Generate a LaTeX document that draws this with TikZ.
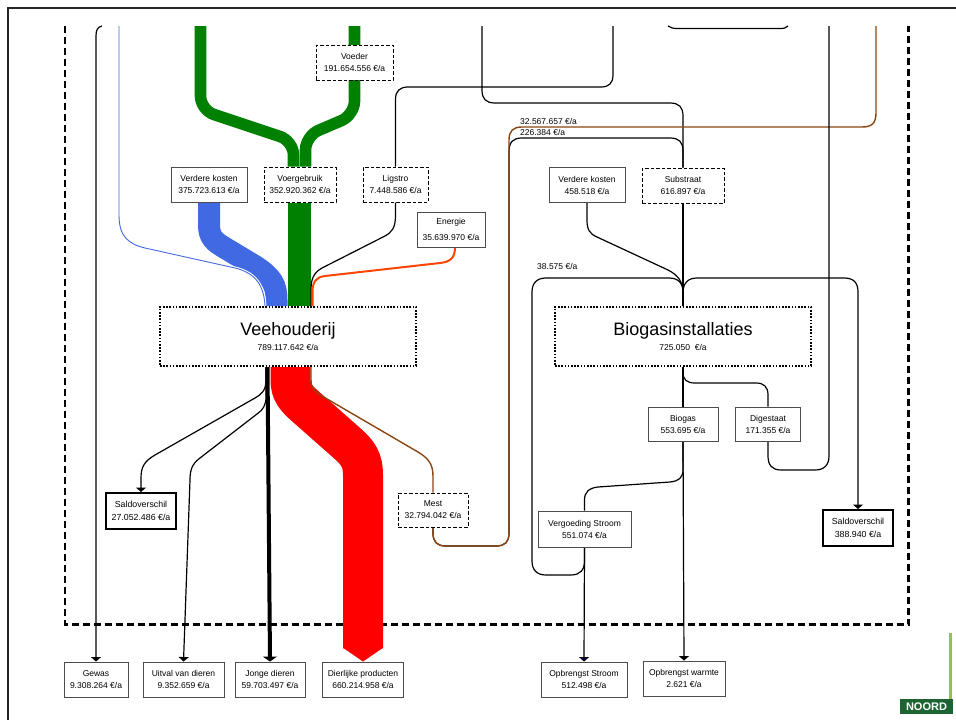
\documentclass[tikz,border=0pt]{standalone}
\usepackage{fontspec}
\setmainfont{Liberation Sans}
\usetikzlibrary{arrows.meta}
\pgfdeclarelayer{bg}
\pgfsetlayers{bg,main}
\newcommand{\smallfnt}{\fontsize{8.5}{12}\selectfont}
\definecolor{gr}{RGB}{0,128,0}
\definecolor{bl}{RGB}{65,105,225}
\definecolor{orr}{RGB}{255,69,0}
\definecolor{brn}{RGB}{139,69,19}
\definecolor{logolight}{RGB}{141,198,63}
\definecolor{logodark}{RGB}{30,100,50}
\begin{document}
\begin{tikzpicture}[x=1pt,y=-1pt,
  sbox/.style={draw=black!70, line width=0.9pt, fill=white, align=center, font=\smallfnt, inner sep=0pt},
  dbox/.style={sbox, draw=black, line width=1pt, dash pattern=on 3.5pt off 2pt},
  tbox/.style={sbox, draw=black, line width=2pt, font=\fontsize{8.8}{13.5}\selectfont},
  mbox/.style={fill=white, draw=black, line width=2pt, dash pattern=on 1.6pt off 1.6pt, align=center, font=\smallfnt, minimum width=256pt, minimum height=59pt, inner sep=0pt},
  wire/.style={line width=1.2pt, black},
  arr/.style={wire, -{Triangle[width=10pt,length=4.5pt]}},
  band/.style={line cap=butt},
  halo/.style={preaction={draw=white, line width=3pt}},
  lbl/.style={font=\smallfnt, anchor=west, inner sep=0pt},
]
\useasboundingbox (0,0) rectangle (956,720);

% ---------- nodes ----------
\node[dbox, minimum width=77pt, minimum height=35pt] (voeder) at (354.5,62.5) {Voeder\\191.654.556 €/a};
\node[dbox, minimum width=72pt, minimum height=35pt] (voerg) at (300,184.5) {Voergebruik\\352.920.362 €/a};
\node[sbox, minimum width=76pt, minimum height=35pt] (vkA) at (209,184.5) {Verdere kosten\\375.723.613 €/a};
\node[dbox, minimum width=65pt, minimum height=35pt] (ligstro) at (395.5,184.5) {Ligstro\\7.448.586 €/a};
\node[sbox, minimum width=68pt, minimum height=35pt] (energie) at (451,229.5) {Energie\\[4pt]35.639.970 €/a};
\node[mbox] (vee) at (288,336.5) {{\fontsize{18}{20}\selectfont Veehouderij}\\[3.5pt]789.117.642 €/a};
\node[mbox] (bio) at (683,336.5) {{\fontsize{18}{20}\selectfont Biogasinstallaties}\\[3.5pt]725.050\ \ €/a};
\node[sbox, minimum width=76pt, minimum height=35pt] (vkB) at (587,185) {Verdere kosten\\458.518 €/a};
\node[dbox, minimum width=82pt, minimum height=35pt] (substraat) at (683,185.5) {Substraat\\616.897 €/a};
\node[sbox, minimum width=70pt, minimum height=34pt] (biogas) at (683,424) {Biogas\\553.695 €/a};
\node[sbox, minimum width=65pt, minimum height=34pt] (digestaat) at (768,424) {Digestaat\\171.355 €/a};
\node[sbox, minimum width=93pt, minimum height=36pt] (vergoeding) at (584.5,529) {Vergoeding Stroom\\551.074 €/a};
\node[tbox, minimum width=70pt, minimum height=36pt] (saldoB) at (858,528) {Saldoverschil\\388.940 €/a};
\node[tbox, minimum width=70pt, minimum height=36pt] (saldoA) at (141,511) {Saldoverschil\\27.052.486 €/a};
\node[dbox, minimum width=70pt, minimum height=34pt] (mest) at (433,510) {Mest\\32.794.042 €/a};
\node[sbox, minimum width=64pt, minimum height=35pt] (gewas) at (96,679.5) {Gewas\\9.308.264 €/a};
\node[sbox, minimum width=81pt, minimum height=35pt] (uitval) at (183.5,679.5) {Uitval van dieren\\9.352.659 €/a};
\node[sbox, minimum width=70pt, minimum height=35pt] (jonge) at (270,679.5) {Jonge dieren\\59.703.497 €/a};
\node[sbox, minimum width=81pt, minimum height=35pt] (dierlijk) at (363,679.5) {Dierlijke producten\\660.214.958 €/a};
\node[sbox, minimum width=86pt, minimum height=35pt] (opstroom) at (584,679.5) {Opbrengst Stroom\\512.498 €/a};
\node[sbox, minimum width=82pt, minimum height=35pt] (opwarmte) at (684,678.5) {Opbrengst warmte\\2.621 €/a};

\node[lbl] (l1) at (520,121) {32.567.657 €/a};
\node[lbl] (l2) at (520,132) {226.384 €/a};
\node[lbl] (l3) at (537,266) {38.575 €/a};

% ---------- logo ----------
\draw[logolight, line width=2.5pt] (950.5,633) -- (950.5,699);
\fill[logodark] (900,699) rectangle (953,714);
\begin{scope}
\clip (900,699) rectangle (953,714);
\node[font=\bfseries\fontsize{11}{11}\selectfont, text=white, inner sep=0pt] (noord) at (926.5,707) {NOORD};
\end{scope}

\begin{pgfonlayer}{bg}
% frame and system boundary
\draw[line width=2.2pt, black!85] (8,720) -- (8,8) -- (956,8);
\draw[line width=2.5pt, dash pattern=on 7pt off 4pt] (65,26) -- (65,624.5) -- (908.5,624.5) -- (908.5,26);

% green feed flows
\draw[band, gr, line width=11.6pt, rounded corners=14pt] (200.5,26) -- (200.5,110) -- (293.5,141) -- (293.5,0 |- voerg.north);
\draw[band, gr, line width=11.6pt, rounded corners=14pt] (354.5,26) -- (354.5,115) -- (305.5,136) -- (305.5,0 |- voerg.north);
\draw[band, gr, line width=23pt] (299.5,0 |- voerg.south) -- (299.5,0 |- vee.north);

% blue band
\draw[band, bl, line width=22pt] (vkA.south) -- (209,225) .. controls (209,238) and (215,242) .. (225,248) -- (255,266) .. controls (272,277) and (276.5,285) .. (276.5,300) -- (276.5,0 |- vee.north);
% thin blue
\draw[bl, line width=0.9pt, halo] (119,26) -- (119,215) .. controls (119,236) and (128,244) .. (145,248) -- (235,268) .. controls (256,273) and (264,286) .. (265,0 |- vee.north);

% ligstro
\draw[wire] (613,26) -- (613,75) .. controls (613,83) and (609,87) .. (601,87) -- (408,87) .. controls (400,87) and (395.5,91) .. (395.5,99) -- (ligstro.north);
\draw[wire] (ligstro.south) -- (395.5,215) .. controls (395.5,228) and (392,232) .. (385,236) -- (322,268) .. controls (313,273) and (311,280) .. (311,290) -- (311,0 |- vee.north);

% energie
\draw[orr, line width=2pt] (455,0 |- energie.south) .. controls (455,258) and (450,262) .. (440,263) -- (325,276) .. controls (316,277) and (312.5,282) .. (312.5,292) -- (312.5,0 |- vee.north);

% substraat inputs
\draw[wire] (482,26) -- (482,90) .. controls (482,99) and (486,103) .. (495,103) -- (670,103) .. controls (679,103) and (683,107) .. (683,116) -- (substraat.north);
\draw[wire] (mest.south) -- (433,533) .. controls (433,542) and (437,546) .. (446,546) -- (496,546) .. controls (505,546) and (509,542) .. (509,533) -- (509,152) .. controls (509,142) and (513,138) .. (522,138) -- (670,138) .. controls (679,138) and (683,142) .. (683,151) -- (substraat.north);
% brown manure out
\draw[brn, line width=1.4pt] (mest.south) -- (433,533) .. controls (433,542) and (437,546) .. (446,546) -- (496,546) .. controls (505,546) and (509,542) .. (509,533) -- (509,140) .. controls (509,131) and (513,127) .. (522,127) -- (862,127) .. controls (872,127) and (876,123) .. (876,113) -- (876,26);

% top U
\draw[wire] (668,26) .. controls (671,28) and (673,28.5) .. (678,28.5) -- (780,28.5) .. controls (784,28.5) and (786,28) .. (788,26);

% biogas plant
\draw[wire] (substraat.south) -- (bio.north);
\draw[wire] (vkB.south) -- (587,220) .. controls (587,230) and (590,234) .. (597,237) -- (668,270) .. controls (678,275) and (683,282) .. (683,292) -- (bio.north);
\draw[arr] (bio.north) -- (683,293) .. controls (683,283) and (688,278) .. (697,278) -- (844,278) .. controls (854,278) and (858,283) .. (858,292) -- (saldoB.north);
\draw[wire] (vergoeding.south) -- (584.5,561) .. controls (584.5,570) and (580,575) .. (571,575) -- (546,575) .. controls (537,575) and (532,570) .. (532,561) -- (532,292) .. controls (532,283) and (537,278) .. (546,278) -- (669,278) .. controls (678,278) and (683,283) .. (683,292) -- (bio.north);
\draw[wire] (bio.south) -- (biogas.north);
\draw[wire] (bio.south) -- (683,372) .. controls (683,380) and (687,383) .. (695,383) -- (756,383) .. controls (764,383) and (768,387) .. (768,395) -- (digestaat.north);
\draw[wire] (digestaat.south) -- (768,456) .. controls (768,465) and (772,470) .. (781,470) -- (815,470) .. controls (824,470) and (829,465) .. (829,456) -- (829,26);
\draw[wire] (biogas.south) -- (683,469) .. controls (683,478) and (679,481) .. (670,482) -- (598,487) .. controls (589,488) and (584.5,492) .. (584.5,500) -- (vergoeding.north);
\draw[arr] (biogas.south) -- (opwarmte.north);
\draw[wire, -{Triangle[width=10pt,length=4.5pt, fill=blue!60!black]}] (vergoeding.south) -- (opstroom.north);

% livestock outputs
\draw[arr] (102,26) .. controls (97.5,27) and (96,30) .. (96,36) -- (gewas.north);
\draw[arr] (266,0 |- vee.south) -- (266,380) .. controls (266,390) and (262,394) .. (255,398) -- (155,455) .. controls (145,461) and (141,466) .. (141,478) -- (saldoA.north);
\draw[arr] (266,0 |- vee.south) -- (266,397) .. controls (266,405) and (263,410) .. (257,414) -- (200,458) .. controls (192,464) and (190,470) .. (190,480) -- (uitval.north);
\draw[line width=4pt, -{Triangle[width=14pt,length=5pt]}] (267.5,0 |- vee.south) -- (jonge.north);
\draw[band, red, line width=40pt, -{Triangle[width=40pt,length=14pt]}] (290.5,0 |- vee.south) -- (290.5,380) .. controls (290.5,392) and (296,398) .. (305,406) -- (348,444) .. controls (358,453) and (363,460) .. (363,475) -- (dierlijk.north);
\draw[brn, line width=1.4pt] (311,0 |- vee.south) -- (311,380) .. controls (311,388) and (315,392) .. (322,396) -- (418,452) .. controls (428,458) and (433,464) .. (433,476) -- (mest.north);
\end{pgfonlayer}
\end{tikzpicture}
\end{document}
